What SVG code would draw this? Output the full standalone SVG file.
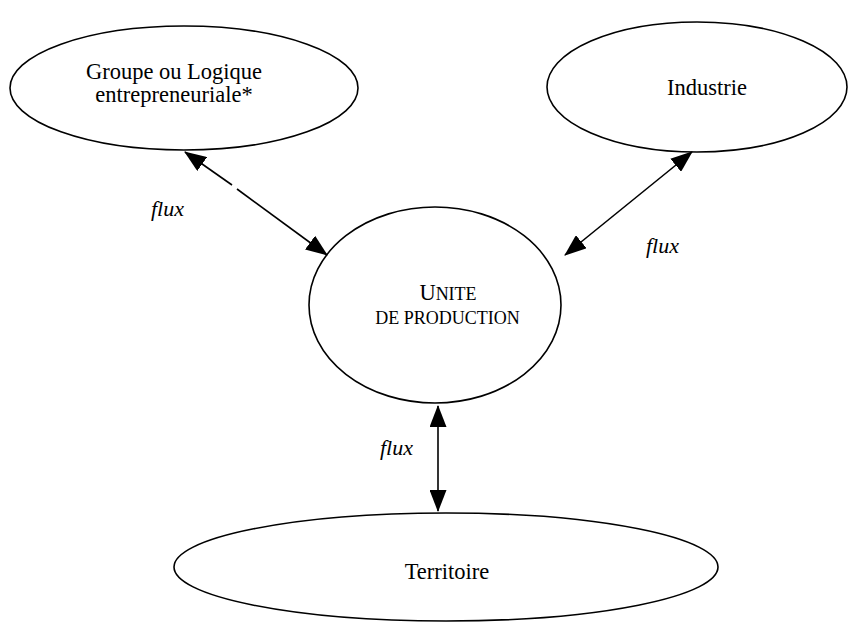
<svg xmlns="http://www.w3.org/2000/svg" width="851" height="623" viewBox="0 0 851 623">
<style>
.node{fill:#fff;stroke:#000;stroke-width:1.6}
.t{font-family:"Liberation Serif","Times New Roman",serif;font-size:22.5px;fill:#000;text-anchor:middle}
.sc{font-size:18px}
.lbl{font-family:"Liberation Serif","Times New Roman",serif;font-size:22px;font-style:italic;fill:#000}
.c{stroke:#000;stroke-width:1.6;fill:none}
</style>
<defs>
<marker id="ah" markerUnits="userSpaceOnUse" markerWidth="22" markerHeight="17" refX="21" refY="8.5" orient="auto-start-reverse" viewBox="0 0 22 17">
<path d="M0,0 L22,8.5 L0,17 z" fill="#000"/>
</marker>
</defs>
<rect width="851" height="623" fill="#fff"/>
<g id="groupe">
<ellipse class="node" cx="184" cy="88" rx="174" ry="62"/>
<text class="t" x="174" y="78.5">Groupe ou Logique</text>
<text class="t" x="174" y="102">entrepreneuriale*</text>
</g>
<g id="industrie">
<ellipse class="node" cx="697" cy="87" rx="150" ry="65"/>
<text class="t" x="707" y="95">Industrie</text>
</g>
<g id="unite">
<ellipse class="node" cx="435" cy="305" rx="126" ry="98"/>
<text class="t" x="448" y="300">U<tspan class="sc">NITE</tspan></text>
<text class="t sc" x="447.5" y="324">DE PRODUCTION</text>
</g>
<g id="territoire">
<ellipse class="node" cx="446" cy="567" rx="272" ry="54"/>
<text class="t" x="447" y="579">Territoire</text>
</g>
<g id="connectors">
<line class="c" x1="185" y1="152" x2="232" y2="185" marker-start="url(#ah)"/>
<line class="c" x1="237" y1="189" x2="327" y2="255" marker-end="url(#ah)"/>
<line class="c" x1="692" y1="152" x2="565" y2="255" marker-start="url(#ah)" marker-end="url(#ah)"/>
<line class="c" x1="438" y1="406" x2="438" y2="511" marker-start="url(#ah)" marker-end="url(#ah)"/>
</g>
<g id="labels">
<text class="lbl" x="151" y="216">flux</text>
<text class="lbl" x="646" y="253">flux</text>
<text class="lbl" x="380" y="455">flux</text>
</g>
</svg>
